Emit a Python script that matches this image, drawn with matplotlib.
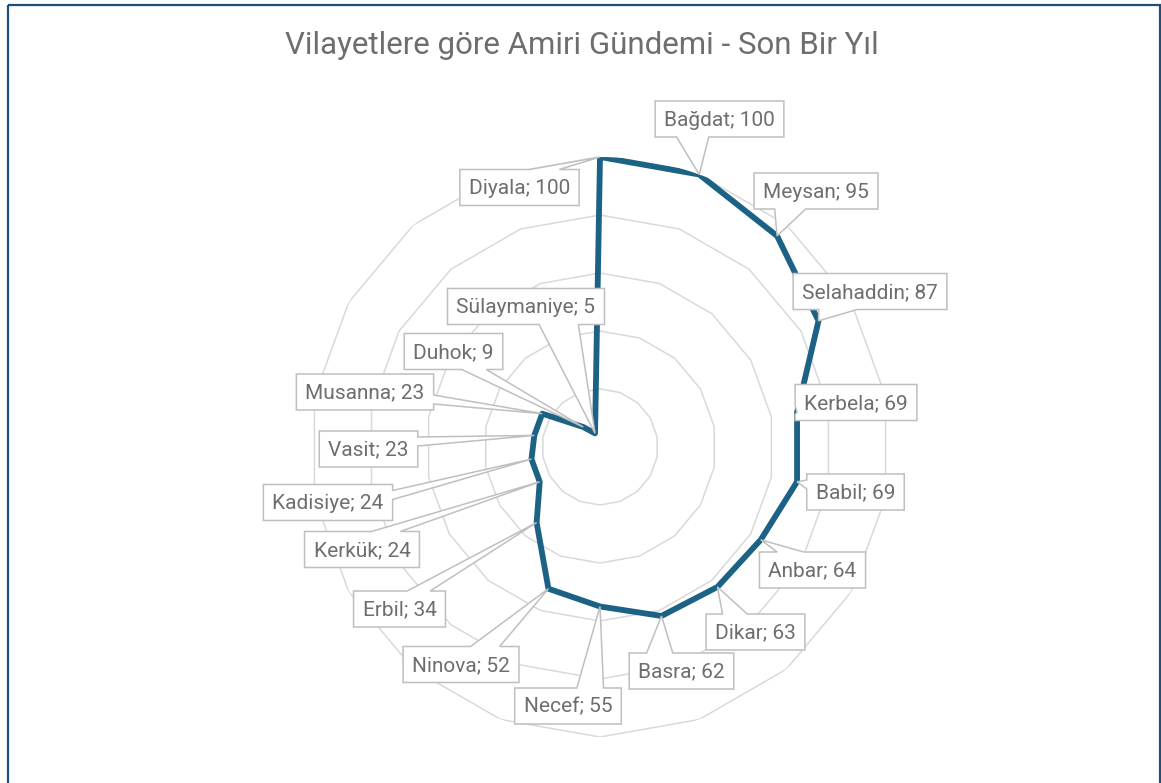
import numpy as np
import matplotlib
matplotlib.use("Agg")
import matplotlib.pyplot as plt
from matplotlib.patches import Polygon, Rectangle

# ---------------- data ----------------
categories = ["Diyala", "Bağdat", "Meysan", "Selahaddin", "Kerbela", "Babil",
              "Anbar", "Dikar", "Basra", "Necef", "Ninova", "Erbil", "Kerkük",
              "Kadisiye", "Vasit", "Musanna", "Duhok", "Sülaymaniye"]
values = [100, 100, 95, 87, 69, 69, 64, 63, 62, 55, 52, 34, 24, 24, 23, 23, 9, 5]
grid_levels = [20, 40, 60, 80, 100]
title = "Vilayetlere göre Amiri Gündemi - Son Bir Yıl"

# ---------------- layout (label box centres in pixels, y down) ----------------
label_centres = [(519.5, 187.5), (719.5, 119), (816, 191), (870, 291.5),
                 (856, 402.5), (855.5, 492), (812.5, 570), (755.5, 632),
                 (681.5, 671), (568, 706), (461, 664.5), (399.5, 609),
                 (362, 549.5), (328, 502.5), (368.5, 449), (365, 392),
                 (453.5, 351.5), (526, 306.5)]

W, H = 1161, 783
DPI = 100
LINE_COL = "#1c6285"
GRID_COL = "#d9d9d9"
BOX_COL = "#bfbfbf"
TEXT_COL = "#6e6e6e"
FONT = ["Roboto", "DejaVu Sans"]

fig = plt.figure(figsize=(W / DPI, H / DPI), dpi=DPI)
fig.patch.set_facecolor("white")

# polar axes: centre (600, 447) px, radius 290 px
cx, cy, R = 600, 447, 290
ax = fig.add_axes([(cx - R) / W, (H - cy - R) / H, 2 * R / W, 2 * R / H],
                  projection="polar")
ax.set_theta_zero_location("N")
ax.set_theta_direction(-1)
ax.set_ylim(0, 100)
ax.grid(False)
ax.set_xticks([])
ax.set_yticks([])
ax.spines["polar"].set_visible(False)
ax.set_facecolor("none")

n = len(categories)
theta = np.arange(n) * 2 * np.pi / n
theta_c = np.append(theta, theta[0])

for lv in grid_levels:
    ax.plot(theta_c, [lv] * (n + 1), color=GRID_COL, lw=1.1, zorder=1,
            solid_joinstyle="miter")

vals_c = np.append(values, values[0])
ax.plot(theta_c, vals_c, color=LINE_COL, lw=4.2, zorder=3,
        solid_joinstyle="round", solid_capstyle="round")

# overlay axes in pixel coordinates (y down)
ov = fig.add_axes([0, 0, 1, 1])
ov.set_xlim(0, W)
ov.set_ylim(H, 0)
ov.axis("off")
ov.set_zorder(5)

fig.canvas.draw()
renderer = fig.canvas.get_renderer()
inv = ov.transData.inverted()


def callout(l, t, r, b, xp, yp):
    w, h = r - l, b - t
    hc, vc = (l + r) / 2, (t + b) / 2
    dx, dy = xp - hc, yp - vc
    dq = dx * h / w
    dz = abs(dy) - abs(dq)
    pts = [(l, t)]
    if dz > 0:
        side = "top" if dy < 0 else "bottom"
        x1 = l + w * (7 if dx > 0 else 2) / 12
        x2 = l + w * (10 if dx > 0 else 5) / 12
    else:
        side = "left" if dx < 0 else "right"
        y1 = t + h * (7 if dy > 0 else 2) / 12
        y2 = t + h * (10 if dy > 0 else 5) / 12
    if side == "top":
        pts += [(x1, t), (xp, yp), (x2, t)]
    pts.append((r, t))
    if side == "right":
        pts += [(r, y1), (xp, yp), (r, y2)]
    pts.append((r, b))
    if side == "bottom":
        pts += [(x2, b), (xp, yp), (x1, b)]
    pts.append((l, b))
    if side == "left":
        pts += [(l, y2), (xp, yp), (l, y1)]
    return pts


BOX_H = 36
PADX = 9
for i, (cat, v) in enumerate(zip(categories, values)):
    label = f"{cat}; {v}"
    disp = ax.transData.transform((theta[i], v))
    xp, yp = inv.transform(disp)
    bx, by = label_centres[i]
    txt = ov.text(bx, by + 1, label, ha="center", va="center", fontsize=15,
                  family=FONT, color=TEXT_COL, zorder=12)
    bb = txt.get_window_extent(renderer=renderer)
    tw = bb.width
    l, r = bx - tw / 2 - PADX, bx + tw / 2 + PADX
    t, b = by - BOX_H / 2, by + BOX_H / 2
    poly = Polygon(callout(l, t, r, b, xp, yp), closed=True, facecolor="white",
                   edgecolor=BOX_COL, lw=1.1, zorder=10, joinstyle="miter")
    ov.add_patch(poly)

ov.text(582, 45, title, ha="center", va="center", fontsize=22.5, family=FONT,
        color=TEXT_COL, zorder=12)

ov.add_patch(Rectangle((7.5, 4.5), 1152.5, 800, fill=False, edgecolor="#1f4e79",
                       lw=1.6, zorder=20, clip_on=True))

fig.savefig("out.png", dpi=DPI, facecolor="white")
